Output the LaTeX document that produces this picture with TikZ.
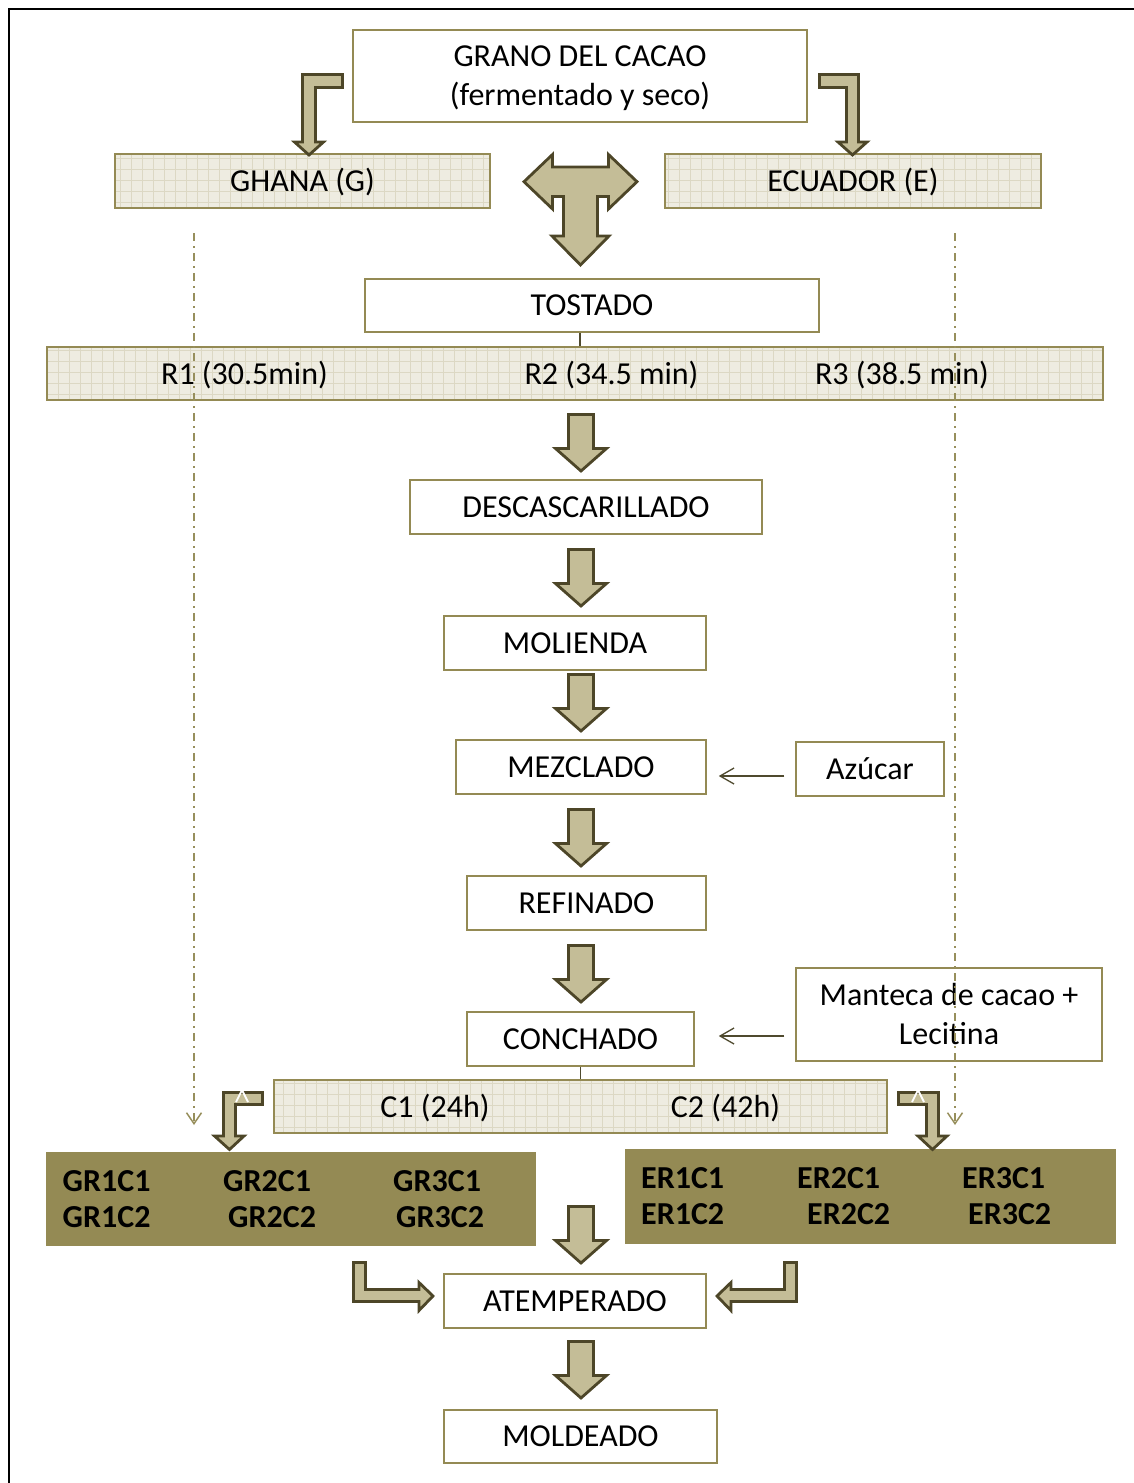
\documentclass[tikz,border=0pt]{standalone}
\usepackage{fontspec}
\setmainfont{Carlito}
\usetikzlibrary{arrows.meta,calc}
\definecolor{boxline}{HTML}{948A54}
\definecolor{beige}{HTML}{EEECE1}
\definecolor{gridc}{HTML}{DCD8C4}
\definecolor{olivefill}{HTML}{948A54}
\definecolor{arrfill}{HTML}{C4BD97}
\definecolor{arrline}{HTML}{4D4628}
\definecolor{dashc}{HTML}{978F5C}
\definecolor{thinc}{HTML}{4F4A2E}
\begin{document}
\begin{tikzpicture}[x=1pt,y=-1pt,
 every node/.style={inner sep=0pt, font=\fontsize{32}{39}\selectfont},
 boxbase/.style={draw=boxline, line width=1.5pt},
 wbox/.style={boxbase, fill=white, text height=20.5pt, text depth=0pt},
 wbox2/.style={boxbase, fill=white, align=center, text height=59.5pt, text depth=0pt},
 gbox/.style={boxbase, fill=beige, text height=20.5pt, text depth=0pt,
   path picture={\draw[gridc, line width=0.6pt, step=11pt] (path picture bounding box.south west) grid (path picture bounding box.north east);}},
 obox/.style={draw=olivefill, line width=1pt, fill=olivefill},
 lbl/.style={text height=20.5pt, text depth=0pt},
 glbl/.style={lbl, anchor=west, font=\fontsize{32}{39}\selectfont\bfseries},
 blockarr/.style={draw=arrline, fill=arrfill, line width=2.8pt, line join=miter},
 dashln/.style={dashc, line width=1.5pt, dash pattern=on 8pt off 5pt on 2pt off 5pt, -{Straight Barb[length=11pt,width=15pt]}},
 thinarr/.style={thinc, line width=1.3pt, -{Straight Barb[length=14pt,width=16pt]}},
 conn/.style={thinc, line width=1.2pt},
 downarr/.pic={\path[blockarr] (-12.5,1.5) -- (12.5,1.5) -- (12.5,35.5) -- (25.5,35.5) -- (0,58) -- (-25.5,35.5) -- (-12.5,35.5) -- cycle;}
]
\useasboundingbox (0,0) rectangle (1134,1483);
% frame
\draw[black, line width=2.5pt] (9,1490) -- (9,9) -- (1140,9);

% boxes
\node[wbox2, minimum width=454pt, minimum height=92pt] (grano) at (580,76) {GRANO DEL CACAO\\(fermentado y seco)};
\node[gbox, minimum width=375pt, minimum height=54pt] (ghana) at (302.5,181) {GHANA (G)};
\node[gbox, minimum width=376pt, minimum height=54pt] (ecuador) at (853,181) {ECUADOR (E)};
\node[wbox, minimum width=454pt, minimum height=53pt] (tostado) at (592,305.5) {TOSTADO};
\node[gbox, minimum width=1056pt, minimum height=53pt] (rbox) at (575,373.5) {};
\node[lbl] (r1) at (244.5,374) {R1 (30.5min)};
\node[lbl] (r2) at (611.5,374) {R2 (34.5 min)};
\node[lbl] (r3) at (902,374) {R3 (38.5 min)};
\node[wbox, minimum width=352pt, minimum height=54pt] (desc) at (586,507) {DESCASCARILLADO};
\node[wbox, minimum width=262pt, minimum height=54pt] (molienda) at (575,643) {MOLIENDA};
\node[wbox, minimum width=250pt, minimum height=54pt] (mezclado) at (581,767) {MEZCLADO};
\node[wbox, minimum width=148pt, minimum height=54pt] (azucar) at (870,769) {Azúcar};
\node[wbox, minimum width=239pt, minimum height=54pt] (refinado) at (586.5,903) {REFINADO};
\node[wbox, minimum width=227pt, minimum height=54pt] (conchado) at (580.5,1039) {CONCHADO};
\node[wbox2, minimum width=306pt, minimum height=93pt] (manteca) at (949,1014.5) {Manteca de cacao +\\Lecitina};
\node[gbox, minimum width=613pt, minimum height=53pt] (cbox) at (580.5,1106.5) {};
\node[lbl] (c1) at (435,1107) {C1 (24h)};
\node[lbl] (c2) at (725.5,1107) {C2 (42h)};
\node[obox, minimum width=489pt, minimum height=93pt] (gleft) at (290.5,1198.5) {};
\node[obox, minimum width=490pt, minimum height=94pt] (eright) at (870,1196) {};
\node[glbl] (g11) at (62.5,1181) {GR1C1};
\node[glbl] (g21) at (223,1181) {GR2C1};
\node[glbl] (g31) at (393,1181) {GR3C1};
\node[glbl] (g12) at (62.5,1217.5) {GR1C2};
\node[glbl] (g22) at (228,1217.5) {GR2C2};
\node[glbl] (g32) at (396,1217.5) {GR3C2};
\node[glbl] (e11) at (641,1178) {ER1C1};
\node[glbl] (e21) at (797,1178) {ER2C1};
\node[glbl] (e31) at (962,1178) {ER3C1};
\node[glbl] (e12) at (641,1214.5) {ER1C2};
\node[glbl] (e22) at (807,1214.5) {ER2C2};
\node[glbl] (e32) at (968,1214.5) {ER3C2};
\node[wbox, minimum width=262pt, minimum height=54pt] (atemp) at (575,1301) {ATEMPERADO};
\node[wbox, minimum width=273pt, minimum height=53pt] (molde) at (580.5,1436.5) {MOLDEADO};

% thin connectors
\draw[conn] (tostado.south -| grano.south) -- (rbox.north -| grano.south);
\draw[conn] (conchado.south) -- (conchado.south |- cbox.north);
\draw[thinarr] ($(azucar.west)+(-11,7)$) -- ($(azucar.west -| mezclado.east)+(12,7)$);
\draw[thinarr] ($(manteca.west |- conchado.east)+(-11,-3)$) -- ($(conchado.east)+(24,-3)$);

% block arrows
\path[blockarr] (342.5,74.5) -- (302.5,74.5) -- (302.5,142) -- (294.5,142) -- (309,155) -- (323.5,142) -- (315.5,142) -- (315.5,87.5) -- (342.5,87.5) -- cycle;
\path[blockarr] (819.5,74.5) -- (858.5,74.5) -- (858.5,142) -- (867,142) -- (852.5,155) -- (838,142) -- (846.5,142) -- (846.5,87.5) -- (819.5,87.5) -- cycle;
\path[blockarr] (524,181.7) -- (552.5,154.5) -- (552.5,167) -- (608.5,167) -- (608.5,154.5) -- (637,181.7) -- (608.5,209) -- (608.5,196.5) -- (597.5,196.5) -- (597.5,236) -- (609,236) -- (580.5,265) -- (552,236) -- (563.5,236) -- (563.5,196.5) -- (552.5,196.5) -- (552.5,209) -- cycle;
\pic at (581,413) {downarr};
\pic at (581,548) {downarr};
\pic at (581,673) {downarr};
\pic at (581,808) {downarr};
\pic at (581,944) {downarr};
\pic at (581,1205) {downarr};
\pic at (581,1340) {downarr};
\path[blockarr] (262.5,1092.5) -- (223.5,1092.5) -- (223.5,1136) -- (214.5,1136) -- (229.5,1149.5) -- (244,1136) -- (235.5,1136) -- (235.5,1104.5) -- (262.5,1104.5) -- cycle;
\path[blockarr] (898.5,1092.5) -- (938.5,1092.5) -- (938.5,1136) -- (947,1136) -- (932.5,1149.5) -- (918,1136) -- (926.5,1136) -- (926.5,1104.5) -- (898.5,1104.5) -- cycle;
\draw[white, line width=1.8pt] (236,1102) -- (242,1090) -- (248,1102);
\draw[white, line width=1.8pt] (912,1102) -- (918,1090) -- (924,1102);
\path[blockarr] (353.5,1262.5) -- (365.5,1262.5) -- (365.5,1289.5) -- (419,1289.5) -- (419,1282.5) -- (433,1296) -- (419,1310.5) -- (419,1301.5) -- (353.5,1301.5) -- cycle;
\path[blockarr] (796.5,1262.5) -- (784.5,1262.5) -- (784.5,1289.5) -- (731,1289.5) -- (731,1282.5) -- (717,1296) -- (731,1310.5) -- (731,1301.5) -- (796.5,1301.5) -- cycle;

% dash-dot lines
\coordinate (dla) at (194,233);
\coordinate (dlb) at (194,1125);
\coordinate (dra) at (955,233);
\coordinate (drb) at (955,1125);
\draw[dashln] (dla) -- (dlb);
\draw[dashln] (dra) -- (drb);
\end{tikzpicture}
\end{document}
